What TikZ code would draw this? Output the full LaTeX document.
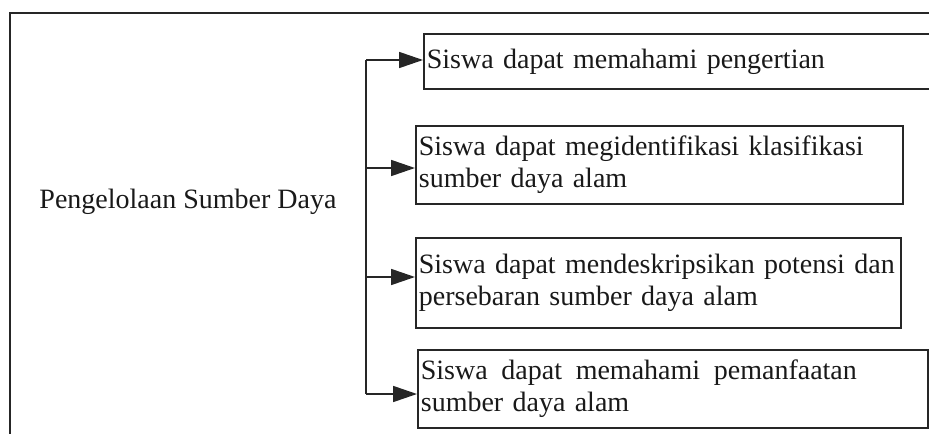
\documentclass[tikz,border=0pt]{standalone}
\usepackage{fontspec}
\setmainfont{Liberation Serif}
\usetikzlibrary{arrows.meta}
\begin{document}
\begin{tikzpicture}[x=0.5pt,y=-0.5pt,
  frame/.style={draw=black!85,line width=0.85pt},
  goalbox/.style={frame,rectangle,anchor=north west,inner xsep=1.5pt,inner ysep=0pt,
    font=\fontsize{14}{16}\selectfont,text=black!90},
  link/.style={draw=black!85,line width=0.85pt,-{Triangle[length=12pt,width=8pt]}}]
\useasboundingbox (0,0) rectangle (929,433);
\clip (0,0) rectangle (929,433);
% outer frame (only its left and top sides fall inside the page)
\draw[frame] (10,445) -- (10,13) -- (945,13);
% topic
\node[font=\fontsize{14}{16}\selectfont,text=black!90] (topic) at (188,202) {Pengelolaan Sumber Daya};
% learning goals
\node[goalbox,minimum width=260pt,minimum height=27.5pt,text width=257pt,align=left]
  (g1) at (423,33) {Siswa dapat memahami pengertian};
\node[goalbox,minimum width=243.5pt,minimum height=39pt,text width=240.5pt,align=left]
  (g2) at (415,125) {Siswa dapat megidentifikasi klasifikasi\\sumber daya alam};
\node[goalbox,minimum width=242.5pt,minimum height=45pt,text width=239.5pt,align=left]
  (g3) at (415,237) {Siswa dapat mendeskripsikan potensi dan\\persebaran sumber daya alam};
\node[goalbox,minimum width=255pt,minimum height=39pt,text width=252pt,align=left]
  (g4) at (417,349)
  {\makebox[218pt][s]{Siswa\hfill dapat\hfill memahami\hfill pemanfaatan}\\sumber daya alam};
% branch points on the spine
\coordinate (s1) at (366,60);
\coordinate (s2) at (366,168);
\coordinate (s3) at (366,277);
\coordinate (s4) at (366,394);
\draw[frame] (s1) -- (s4);
\draw[link] (s1) -- (s1 -| g1.west);
\draw[link] (s2) -- (s2 -| g2.west);
\draw[link] (s3) -- (s3 -| g3.west);
\draw[link] (s4) -- (s4 -| g4.west);
\end{tikzpicture}
\end{document}
